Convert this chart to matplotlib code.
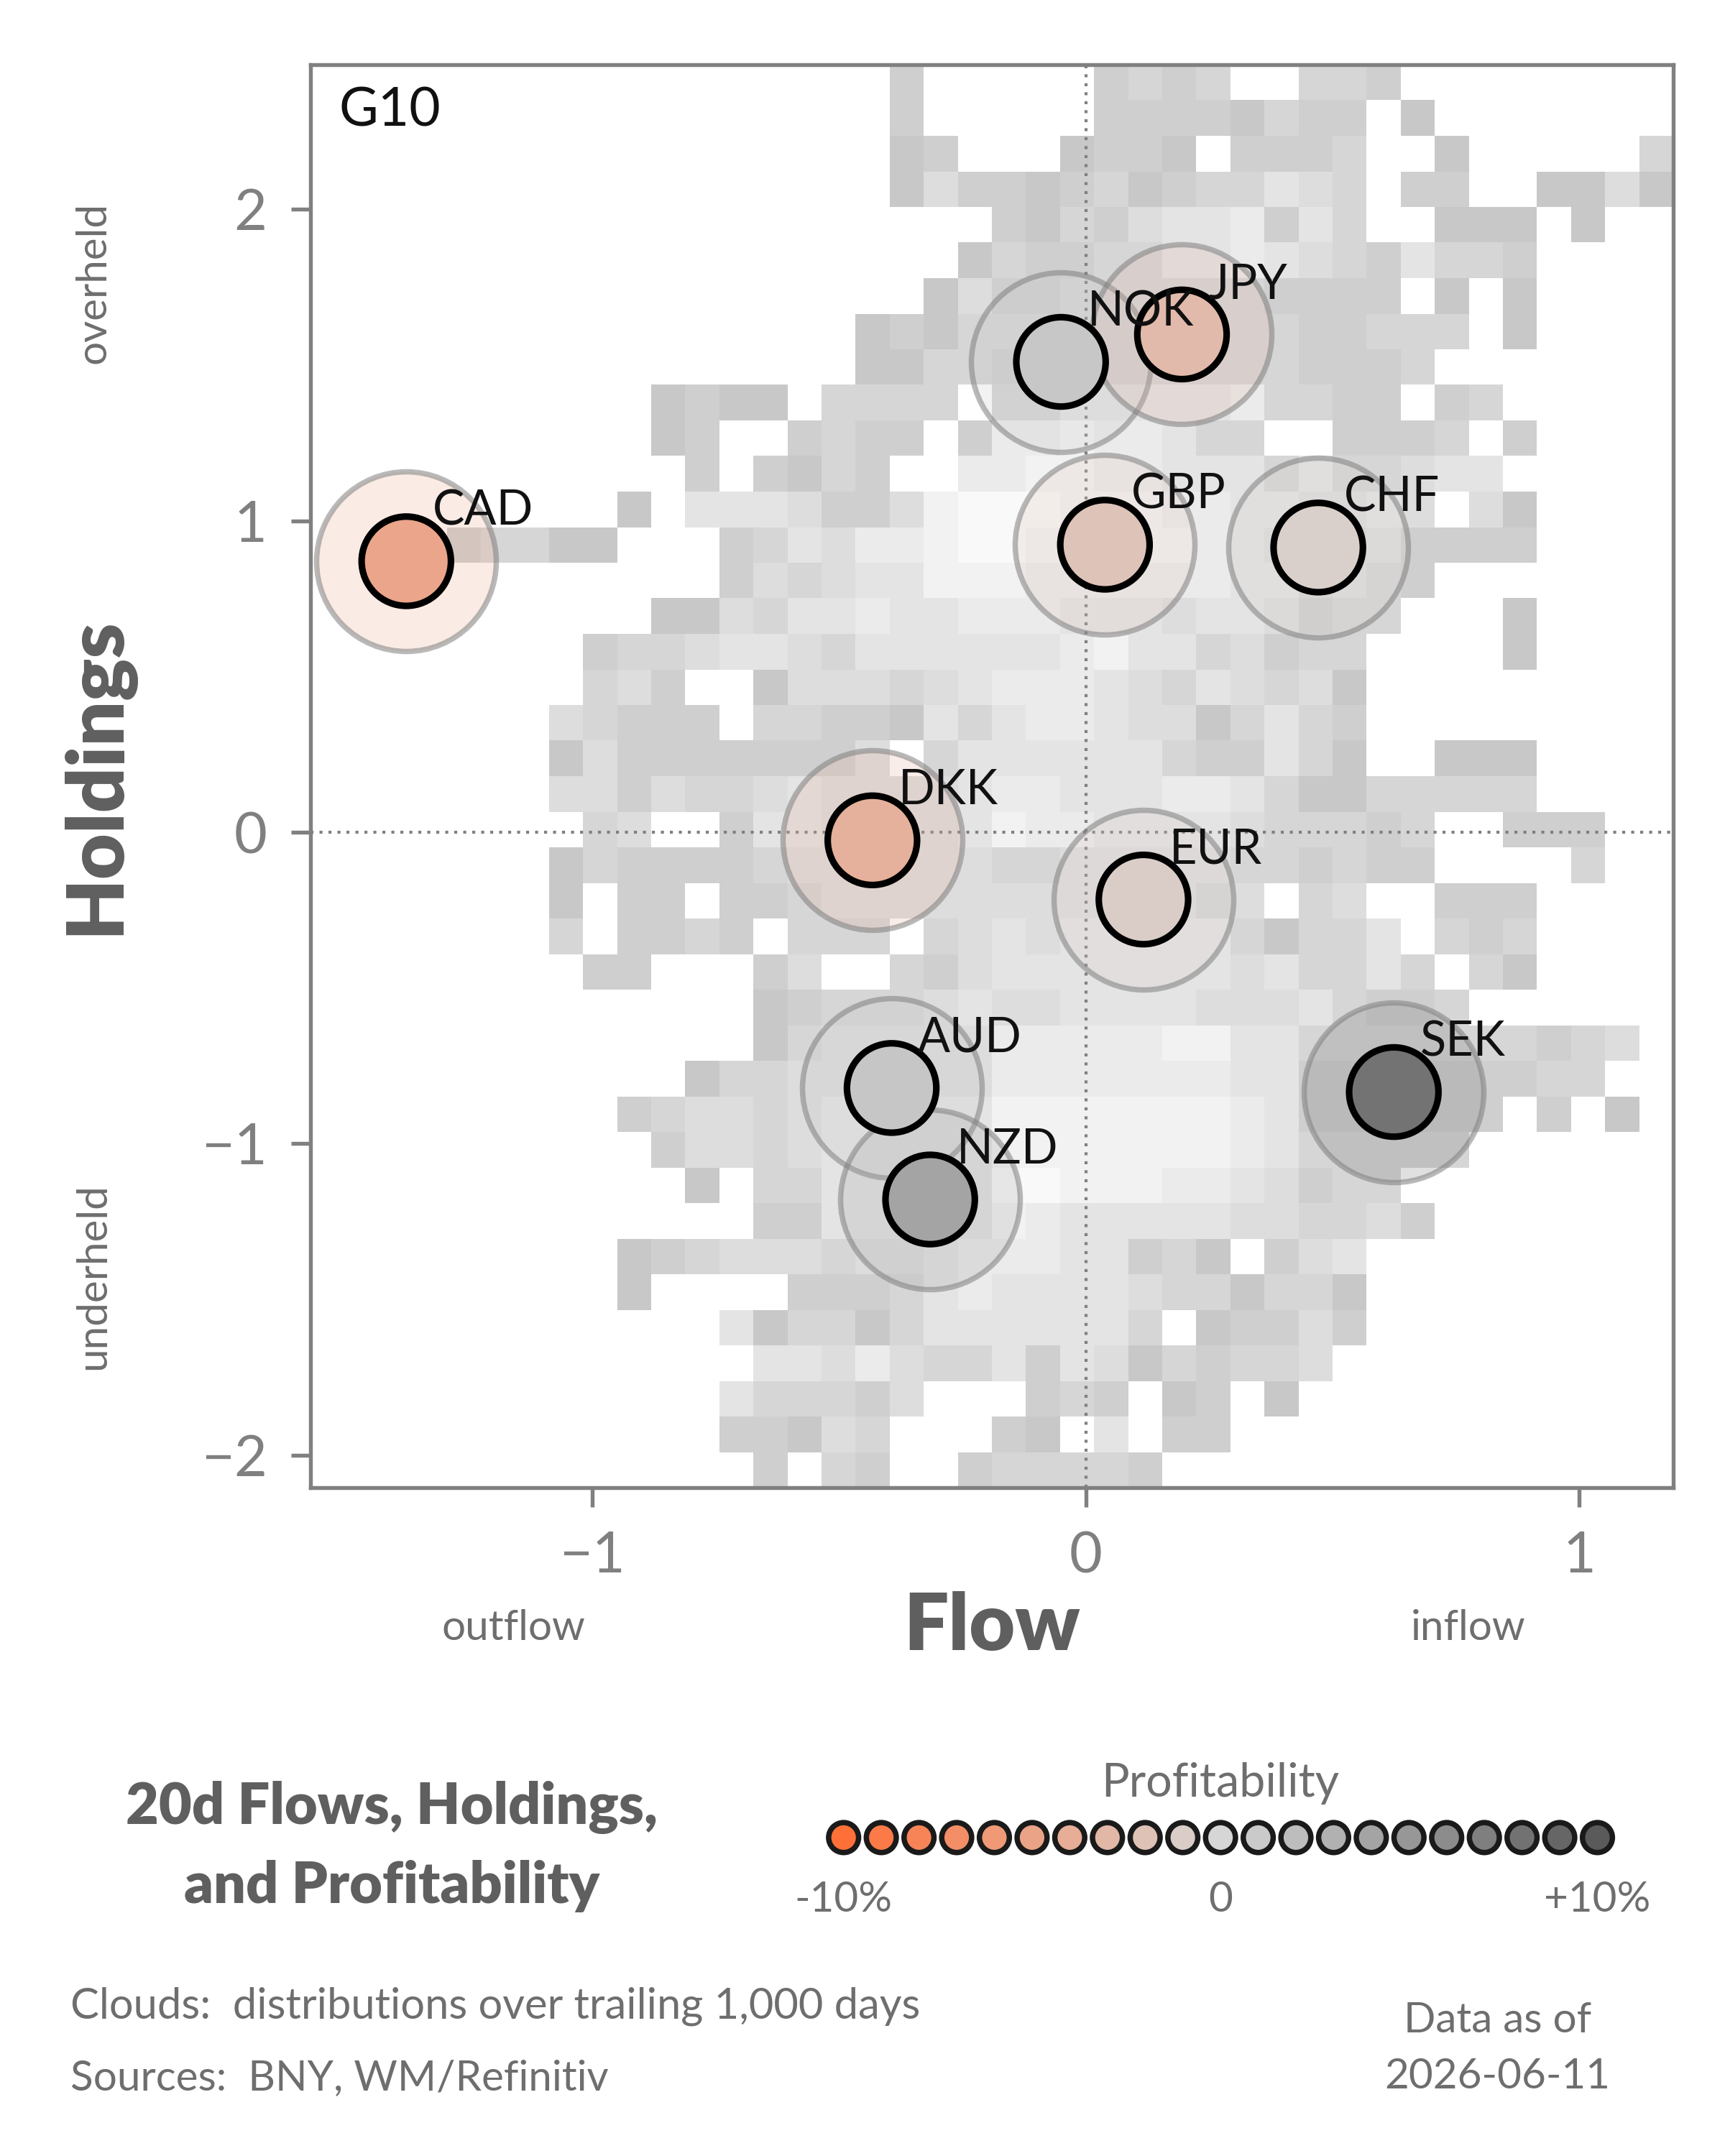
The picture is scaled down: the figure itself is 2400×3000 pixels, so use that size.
import numpy as np
import matplotlib
matplotlib.use("Agg")
import matplotlib.pyplot as plt
from matplotlib.colors import LinearSegmentedColormap, Normalize

plt.rcParams['font.family'] = ['Lato', 'DejaVu Sans']

# ---------------- data ----------------
CURRENCIES = ['CAD', 'NOK', 'JPY', 'GBP', 'CHF', 'DKK', 'EUR', 'AUD', 'NZD', 'SEK']
FLOW = [-1.376, -0.050, 0.195, 0.039, 0.471, -0.432, 0.117, -0.393, -0.315, 0.624]
HOLDINGS = [0.870, 1.510, 1.598, 0.923, 0.914, -0.026, -0.216, -0.821, -1.179, -0.834]
PROFIT = [-4.8, 1.2, -2.7, -1.8, -0.7, -3.6, -0.9, 1.3, 4.0, 7.9]   # percent

# background cloud: 40 x 40 histogram, top row first; '.' = empty, 1 (rare) .. 8 (dense)
CLOUD_XLIM = (-1.57, 1.19)
CLOUD_YLIM = (-2.104, 2.464)
CLOUD_ROWS = [
    ".................2.....2323..332........",
    ".................2.....22221322.1.......",
    ".................12...1221.2223..1.....3",
    ".................14221231233543.22..1141",
    "....................21324556253..111.1..",
    "...................13223355654325332....",
    "..................14223333332222.1.1....",
    "................121333333333322333.1....",
    "................11332333333332223.......",
    "..........1211.3333.335555563322.23.....",
    "..........12..2322.266766533..2223.2....",
    "...........2.2132..6677665553533455.....",
    ".........1.5554224788877766554454.41....",
    "....23311...235466788777776543342222....",
    "............243455777666666553432.......",
    "..........1143556556665554554233...1....",
    "........23345543555555675534233....1....",
    "........342..144434566654354341.........",
    ".......43222.332215356654413532.........",
    ".......1422222224.3555555322531..111....",
    ".......44243345444456655566531133333....",
    "........34..255444457665555433323..222..",
    ".......13222234444443344444332322....3..",
    ".......1.22.2234444444444434.34..222...",
    ".......3.2232.333.34545555531335.323....",
    "........22...24..3245555555453353.31....",
    ".............123334544555544453223......",
    ".............13444446666677553333333234.",
    "...........133444444666666655222222233..",
    ".........23443455555777777765222222.2.1.",
    "..........244345555577777776533333......",
    "...........1.3355555887776654233........",
    ".............22555557655555443342.......",
    ".........123444344566655231.245.........",
    ".........1....22235655554331331.........",
    "............5133135555553.12242.........",
    ".............55464335254132334..........",
    "............533324...232.12.1...........",
    "............22143...21.5.22.............",
    ".............2.32..233332...............",
]

XTICKS = [-1, 0, 1]
YTICKS = [-2, -1, 0, 1, 2]
LEGEND_VALUES = list(range(-10, 11))
LEGEND_TICKS = [-10, 0, 10]
LEGEND_TICKLABELS = ['-10%', '0', '+10%']

# ---------------- styles ----------------
GREY_TXT = '#6e6e6e'
DARK_TXT = '#5f5f5f'
AX_GREY = '#808080'

profit_cmap = LinearSegmentedColormap.from_list('profit', ['#ff7038', '#d6d6d6', '#5a5a5a'])
profit_norm = Normalize(-10, 10)
cloud_cmap = LinearSegmentedColormap.from_list('cloud', ['#c8c8c8', '#f9f9f9'])

fig = plt.figure(figsize=(8, 10), dpi=300)
ax = fig.add_axes([0.18, 0.31, 0.79, 0.66])

# cloud
ncols = 40
grid = []
for row in CLOUD_ROWS:
    row = row.ljust(ncols, '.')[:ncols]
    grid.append([np.nan if ch == '.' else float(ch) for ch in row])
grid = np.array(grid)[::-1]
xe = np.linspace(CLOUD_XLIM[0], CLOUD_XLIM[1], grid.shape[1] + 1)
ye = np.linspace(CLOUD_YLIM[0], CLOUD_YLIM[1], grid.shape[0] + 1)
ax.pcolormesh(xe, ye, np.ma.masked_invalid(grid), cmap=cloud_cmap, vmin=1, vmax=8,
              edgecolors='none', antialiased=False, zorder=0)

ax.set_xlim(CLOUD_XLIM)
ax.set_ylim(CLOUD_YLIM)
ax.axvline(0, color=AX_GREY, ls=(0, (1, 2)), lw=1.0, zorder=1)
ax.axhline(0, color=AX_GREY, ls=(0, (1, 2)), lw=1.0, zorder=1)

cols = profit_cmap(profit_norm(np.array(PROFIT)))
halo_face = cols.copy()
halo_face[:, 3] = 0.22
for i in range(len(CURRENCIES)):
    ax.scatter([FLOW[i]], [HOLDINGS[i]], s=3600, facecolors=[halo_face[i]],
               edgecolors=[(0.5, 0.5, 0.5, 0.55)], linewidths=1.8, zorder=2 + i * 0.01)
ax.scatter(FLOW, HOLDINGS, s=890, c=cols, edgecolors='black', linewidths=2.2, zorder=3)
for name, x, y in zip(CURRENCIES, FLOW, HOLDINGS):
    ax.annotate(name, (x, y), xytext=(8.7, 12.0), textcoords='offset points',
                ha='left', va='baseline', fontsize=16, color='#111111', zorder=5)

ax.text(0.021, 0.985, 'G10', transform=ax.transAxes, ha='left', va='top',
        fontsize=18, color='#111111', zorder=6)

for sp in ax.spines.values():
    sp.set_color(AX_GREY)
    sp.set_linewidth(1.3)
ax.set_xticks(XTICKS)
ax.set_yticks(YTICKS)
ax.tick_params(length=6.5, width=1.3, color=AX_GREY, labelcolor=AX_GREY,
               labelsize=19, pad=8)

ax.set_xlabel('Flow', fontsize=26.5, fontweight='heavy', color=DARK_TXT, va='center')
ax.xaxis.set_label_coords(0.5, -0.098)
ax.set_ylabel('Holdings', fontsize=26.5, fontweight='heavy', color=DARK_TXT, va='center')
ax.yaxis.set_label_coords(-0.157, 0.5)

fig.text(0.2975, 0.2447, 'outflow', ha='center', va='center', fontsize=14, color=GREY_TXT)
fig.text(0.851, 0.2447, 'inflow', ha='center', va='center', fontsize=14, color=GREY_TXT)
fig.text(0.054, 0.869, 'overheld', ha='center', va='center', rotation=90, fontsize=14, color=GREY_TXT)
fig.text(0.054, 0.408, 'underheld', ha='center', va='center', rotation=90, fontsize=14, color=GREY_TXT)

# title block
fig.text(0.227, 0.1435, '20d Flows, Holdings,\nand Profitability', ha='center', va='center',
         multialignment='center', linespacing=1.6, fontsize=19, fontweight='heavy', color=DARK_TXT)

# legend
lax = fig.add_axes([0.4672, 0.1252, 0.4807, 0.045])
lax.set_xlim(-11, 11)
lax.set_ylim(-1, 1)
lax.axis('off')
lax.scatter(LEGEND_VALUES, [0] * len(LEGEND_VALUES), s=100,
            c=profit_cmap(profit_norm(np.array(LEGEND_VALUES))),
            edgecolors='#1a1a1a', linewidths=1.8, clip_on=False)
lax.text(0, 1.11, 'Profitability', ha='center', va='center', fontsize=15.5, color=GREY_TXT)
for v, lab in zip(LEGEND_TICKS, LEGEND_TICKLABELS):
    lax.text(v, -1.28, lab, ha='center', va='center', fontsize=14, color=GREY_TXT)

# footnotes
fig.text(0.041, 0.0694, 'Clouds:  distributions over trailing 1,000 days', ha='left', va='center',
         fontsize=14.3, color=GREY_TXT)
fig.text(0.041, 0.036, 'Sources:  BNY, WM/Refinitiv', ha='left', va='center',
         fontsize=14, color=GREY_TXT)
fig.text(0.868, 0.063, 'Data as of', ha='center', va='center', fontsize=14, color=GREY_TXT)
fig.text(0.868, 0.0367, '2026-06-11', ha='center', va='center', fontsize=14, color=GREY_TXT)

fig.savefig('out.png', dpi=300, facecolor='white')
